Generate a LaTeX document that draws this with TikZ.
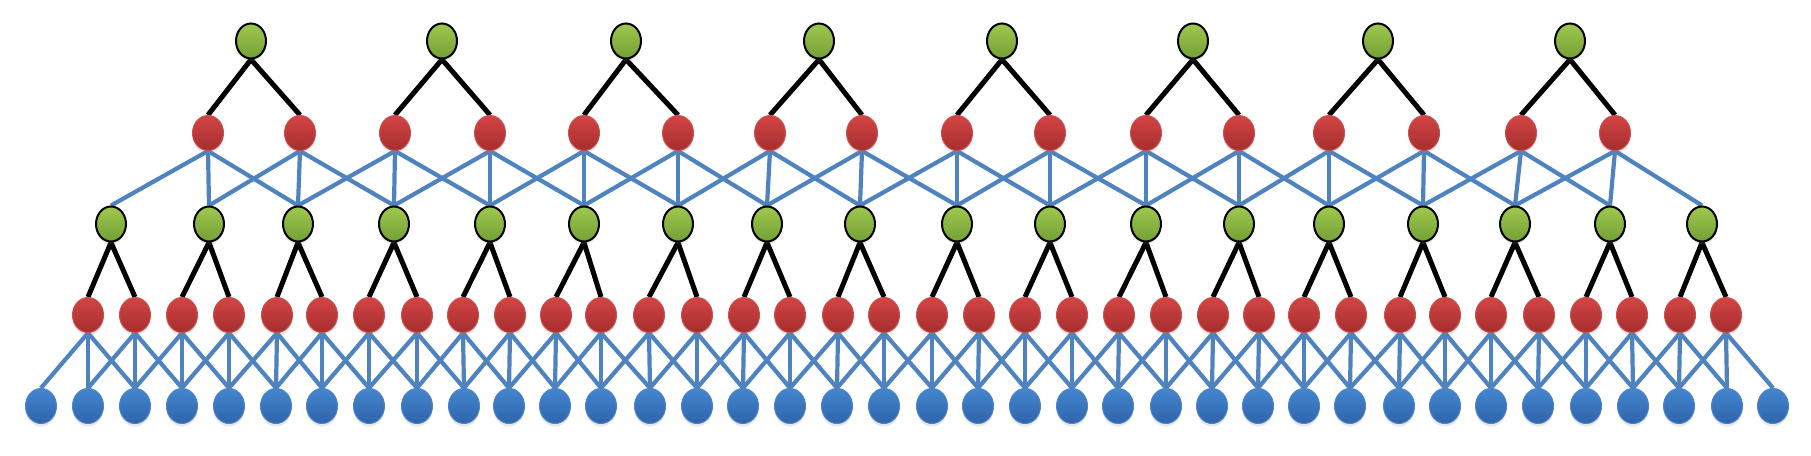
\documentclass[tikz,border=0pt]{standalone}
\usetikzlibrary{shapes.geometric,shadows}
\pgfdeclarelayer{bg}
\pgfsetlayers{bg,main}
\definecolor{gtop}{HTML}{A0C84E}
\definecolor{gbot}{HTML}{73A036}
\definecolor{rtop}{HTML}{D44444}
\definecolor{rbot}{HTML}{A52E2E}
\definecolor{redge}{HTML}{C85050}
\definecolor{btop}{HTML}{4386D0}
\definecolor{bbot}{HTML}{2F64AA}
\definecolor{bedge}{HTML}{4A84C6}
\definecolor{edgeblue}{HTML}{4F83C0}
\begin{document}
\begin{tikzpicture}[x=1pt,y=-1pt,
  nd/.style={ellipse, inner sep=0pt,
    drop shadow={opacity=0.18, shadow xshift=0pt, shadow yshift=-3pt}},
  gnode/.style={nd, minimum width=30pt, minimum height=35pt, draw=black, line width=2pt, top color=gtop, bottom color=gbot},
  rnode/.style={nd, minimum width=31pt, minimum height=35pt, draw=redge, line width=1pt, top color=rtop, bottom color=rbot},
  bnode/.style={nd, minimum width=31pt, minimum height=35pt, draw=bedge, line width=1pt, top color=btop, bottom color=bbot},
  blk/.style={line width=5pt, black},
  blu/.style={line width=4.2pt, edgeblue}]
\useasboundingbox (0,0) rectangle (1811,455);
% top green nodes
\foreach \x [count=\i] in {251,442,626,819,1002,1193,1378,1570}
  \node[gnode] (t\i) at (\x,41) {};
% second row red nodes
\foreach \x [count=\i] in {208,300,395,490,584,678,770,862,957,1050,1146,1239,1329,1424,1521,1615}
  \node[rnode] (a\i) at (\x,133) {};
% third row green nodes
\foreach \x [count=\i] in {111,209,298,394,490,584,678,767,860,957,1050,1146,1239,1329,1423,1515,1610,1702}
  \node[gnode] (g\i) at (\x,224) {};
% fourth row red nodes
\foreach \x [count=\i] in {88,135,182,229,277,322,369,417,463,510,556,601,649,697,744,790,838,884,932,979,1025,1072,1119,1166,1213,1259,1304,1351,1400,1445,1491,1539,1586,1632,1680,1726}
  \node[rnode] (r\i) at (\x,315) {};
% bottom blue nodes
\foreach \x [count=\i] in {41,88,135,182,229,276,322,369,417,464,509,555,601,650,697,743,790,837,884,932,978,1025,1072,1118,1166,1212,1258,1304,1350,1399,1445,1491,1538,1586,1633,1679,1727,1773}
  \node[bnode] (b\i) at (\x,406) {};
\begin{pgfonlayer}{bg}
  \foreach \i in {1,...,8} {
    \pgfmathtruncatemacro\ja{2*\i-1}
    \pgfmathtruncatemacro\jb{2*\i}
    \draw[blk] (t\i.south) -- (a\ja.north);
    \draw[blk] (t\i.south) -- (a\jb.north);
  }
  \foreach \j in {1,...,16} {
    \pgfmathtruncatemacro\ka{\j+1}
    \pgfmathtruncatemacro\kb{\j+2}
    \draw[blu] (a\j.south) -- (g\j.north);
    \draw[blu] (a\j.south) -- (g\ka.north);
    \draw[blu] (a\j.south) -- (g\kb.north);
  }
  \foreach \k in {1,...,18} {
    \pgfmathtruncatemacro\ma{2*\k-1}
    \pgfmathtruncatemacro\mb{2*\k}
    \draw[blk] (g\k.south) -- (r\ma.north);
    \draw[blk] (g\k.south) -- (r\mb.north);
  }
  \foreach \i in {1,...,36} {
    \pgfmathtruncatemacro\na{\i+1}
    \pgfmathtruncatemacro\nb{\i+2}
    \draw[blu] (r\i.south) -- (b\i.north);
    \draw[blu] (r\i.south) -- (b\na.north);
    \draw[blu] (r\i.south) -- (b\nb.north);
  }
\end{pgfonlayer}
\end{tikzpicture}
\end{document}
